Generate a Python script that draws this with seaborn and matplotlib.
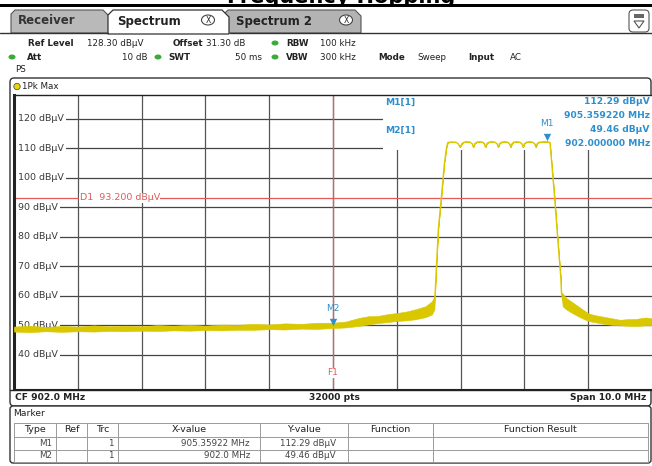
import matplotlib
matplotlib.use("Agg")
import matplotlib.pyplot as plt
import seaborn as sns
from matplotlib.patches import Rectangle, Polygon, FancyBboxPatch, Ellipse, Circle
from matplotlib.transforms import ScaledTranslation

# trace: frequency (MHz), lower / upper edge of the noisy trace (dBuV)
freq_mhz = [897.0, 897.25, 897.5, 897.75, 898.0, 898.25, 898.5, 898.75, 899.0, 899.25, 899.5,
            899.75, 900.0, 900.25, 900.5, 900.75, 901.0, 901.25, 901.5, 901.75,
            902.0, 902.2, 902.4, 902.55, 902.7, 902.85, 903.0, 903.15, 903.3, 903.45, 903.55, 903.59,
            903.60, 903.65, 903.70, 903.745, 903.78, 903.80,
            903.86, 903.93, 903.96, 903.99, 904.02, 904.05, 904.10, 904.15, 904.18, 904.20, 904.22,
            904.25, 904.30, 904.35, 904.37, 904.39, 904.41, 904.44, 904.49, 904.54, 904.57, 904.59,
            904.61, 904.64, 904.69, 904.74, 904.765, 904.785, 904.805, 904.83, 904.88, 904.93,
            904.96, 904.98, 905.00, 905.03, 905.08, 905.13, 905.16, 905.18, 905.20, 905.23,
            905.30, 905.359,
            905.40, 905.47, 905.51, 905.53, 905.57, 905.58,
            905.60, 905.65, 905.75, 905.85, 906.0, 906.1, 906.25, 906.4, 906.5, 906.6, 906.75,
            906.9, 907.0]
level_lo = [47.8, 47.6, 47.9, 47.7, 47.9, 47.8, 48.0, 47.9, 48.1, 48.0, 48.2,
            48.1, 48.3, 48.2, 48.4, 48.4, 48.6, 48.5, 48.8, 48.7,
            49.0, 49.2, 49.7, 50.2, 50.7, 51.0, 51.4, 51.6, 52.0, 52.7, 53.6, 55.4,
            61.0, 82.6, 94.0, 105.0, 110.5, 112.0,
            112.2, 112.1, 111.6, 110.4, 111.6, 112.1, 112.3, 112.1, 111.6, 110.4, 111.6,
            112.1, 112.3, 112.1, 111.6, 110.4, 111.6, 112.1, 112.3, 112.1, 111.6, 110.4,
            111.6, 112.1, 112.3, 112.1, 111.6, 110.4, 111.6, 112.1, 112.3, 112.1,
            111.6, 110.4, 111.6, 112.1, 112.3, 112.1, 111.6, 110.4, 111.6, 112.1,
            112.25, 112.29,
            112.0, 94.0, 82.6, 77.0, 66.0, 61.0,
            56.4, 55.4, 54.1, 52.9, 51.4, 51.0, 50.4, 50.0, 49.9, 49.8, 49.7,
            49.9, 49.9]
level_hi = [49.5, 49.8, 49.4, 49.7, 49.5, 49.9, 49.6, 49.8, 49.6, 50.0, 49.8,
            50.1, 49.8, 50.2, 50.1, 50.4, 50.2, 50.6, 50.4, 50.8,
            50.8, 51.2, 52.4, 53.0, 53.1, 53.7, 54.1, 54.6, 55.4, 56.4, 58.1, 59.8,
            61.0, 82.6, 94.0, 105.0, 110.5, 112.0,
            112.2, 112.1, 111.6, 110.4, 111.6, 112.1, 112.3, 112.1, 111.6, 110.4, 111.6,
            112.1, 112.3, 112.1, 111.6, 110.4, 111.6, 112.1, 112.3, 112.1, 111.6, 110.4,
            111.6, 112.1, 112.3, 112.1, 111.6, 110.4, 111.6, 112.1, 112.3, 112.1,
            111.6, 110.4, 111.6, 112.1, 112.3, 112.1, 111.6, 110.4, 111.6, 112.1,
            112.25, 112.29,
            112.0, 94.0, 82.6, 77.0, 66.0, 61.0,
            60.8, 59.3, 57.8, 56.3, 54.0, 53.4, 52.8, 52.2, 51.8, 52.0, 52.1,
            52.6, 52.3]

grid_db = [40, 50, 60, 70, 80, 90, 100, 110, 120]
grid_labels = ["40 dBμV", "50 dBμV", "60 dBμV", "70 dBμV", "80 dBμV", "90 dBμV",
               "100 dBμV", "110 dBμV", "120 dBμV"]
grid_mhz = [898, 899, 900, 901, 902, 903, 904, 905, 906]

marker_names = ["M1", "M2"]
marker_freq = [905.35922, 902.0]
marker_level = [112.29, 49.46]
marker_x_text = ["905.35922 MHz", "902.0 MHz"]
marker_y_text = ["112.29 dBμV", "49.46 dBμV"]
marker_info_freq = ["905.359220 MHz", "902.000000 MHz"]

d1_level = 93.2
f1_freq = 902.0
ref_level = 128.3

YELLOW = "#d9c800"
BLUE = "#2f8fcc"
RED = "#e05a5a"
W, H = 652, 466

sns.set_style("white")
plt.rcParams["font.family"] = ["DejaVu Sans"]

fig = plt.figure(figsize=(W / 100, H / 100), dpi=100)


def fx(x):
    return x / W


def fy(y):
    return 1 - y / H


def ftext(x, y, s, **kw):
    kw.setdefault("fontsize", 6.3)
    kw.setdefault("va", "center")
    kw.setdefault("color", "#222222")
    fig.text(fx(x), fy(y), s, **kw)


# background layer in pixel coordinates
bg = fig.add_axes([0, 0, 1, 1], zorder=0)
bg.set_xlim(0, W)
bg.set_ylim(H, 0)
bg.axis("off")

# title of the page, cut off by the top edge like in the screenshot
ftext(455, 3.4, "Frequency Hopping", fontsize=15, fontweight="bold", ha="right",
      va="baseline", color="black")
bg.add_patch(Rectangle((0, 3.8), W, 2.8, color="black", lw=0))

# tabs
bg.add_patch(Polygon([(11, 33), (11, 14), (15, 10), (103, 10), (111, 18), (111, 33)],
                     closed=True, fc="#b9b9b9", ec="#555555", lw=0.8))
bg.add_patch(Polygon([(224, 33), (224, 14), (228, 10), (355, 10), (361, 16), (361, 33)],
                     closed=True, fc="#b3b3b3", ec="#555555", lw=0.8))
bg.plot([0, 108], [33, 33], color="#333333", lw=1)
bg.plot([230, W], [33, 33], color="#333333", lw=1)
bg.add_patch(Polygon([(108, 34), (108, 15), (113, 10), (222, 10), (229, 17), (229, 34)],
                     closed=True, fc="white", ec="#333333", lw=0.9))
ftext(18, 21, "Receiver", fontsize=8.5, fontweight="bold", color="#333333")
ftext(117, 21, "Spectrum", fontsize=8.5, fontweight="bold", color="#222222")
ftext(236, 21, "Spectrum 2", fontsize=8.5, fontweight="bold", color="#222222")
for cx in (208, 346):
    bg.add_patch(Ellipse((cx, 20), 13, 10, fc="white", ec="#444444", lw=0.8))
    ftext(cx, 20.5, "X", fontsize=5.5, ha="center", color="#222222")
bg.add_patch(FancyBboxPatch((629, 10), 20, 22, boxstyle="round,pad=0,rounding_size=4",
                            fc="white", ec="#555555", lw=0.8))
bg.add_patch(Rectangle((634, 14), 10, 4, fc="#666666", ec="none"))
bg.add_patch(Polygon([(634, 21), (644, 21), (639, 28)], closed=True, fc="white", ec="#555555", lw=0.8))

# settings block
ftext(28, 43, "Ref Level", fontweight="bold")
ftext(87, 43, "128.30 dBμV")
ftext(173, 43, "Offset", fontweight="bold")
ftext(206, 43, "31.30 dB")
ftext(286, 43, "RBW", fontweight="bold")
ftext(320, 43, "100 kHz")
ftext(27, 57, "Att", fontweight="bold")
ftext(148, 57, "10 dB", ha="right")
ftext(168, 57, "SWT", fontweight="bold")
ftext(262, 57, "50 ms", ha="right")
ftext(286, 57, "VBW", fontweight="bold")
ftext(320, 57, "300 kHz")
ftext(378, 57, "Mode", fontweight="bold")
ftext(417, 57, "Sweep")
ftext(468, 57, "Input", fontweight="bold")
ftext(510, 57, "AC")
ftext(15, 70, "PS")
for gx, gy in [(275, 43), (12, 57), (158, 57), (275, 57)]:
    bg.add_patch(Ellipse((gx, gy), 7, 5, fc="#3aaa3a", ec="none"))

# trace window frame and header
bg.add_patch(FancyBboxPatch((10, 78), 641, 328, boxstyle="round,pad=0,rounding_size=4",
                            fc="white", ec="#333333", lw=1))
bg.add_patch(Circle((17, 86.5), 3.2, fc="#e8d800", ec="#555555", lw=0.6))
ftext(22, 86.5, "1Pk Max")

# main trace axes
ax = fig.add_axes([fx(14), fy(389), fx(652 - 14), (389 - 94.5) / H], zorder=1)
ax.set_xlim(897, 907)
ax.set_ylim(ref_level - 100, ref_level)
ax.set_xticks([])
ax.set_yticks([])
for side in ["left", "bottom", "top", "right"]:
    ax.spines[side].set_color("#222222")
ax.spines["left"].set_linewidth(2.2)
ax.spines["right"].set_visible(False)
ax.spines["top"].set_linewidth(1)

for g in grid_db:
    ax.axhline(g, color="#444444", lw=0.9, zorder=1)
for g in grid_mhz:
    ax.axvline(g, color="#555555", lw=0.9, zorder=1)

# white marker-info box hides the grid there
ax.add_patch(Rectangle((902.78, 109.3), 907 - 902.78, ref_level - 109.3,
                       fc="white", ec="none", zorder=2))

for g, lab in zip(grid_db, grid_labels):
    ax.text(897.06, g, lab, fontsize=6.8, color="#3a3a3a", va="center", ha="left", zorder=2,
            bbox=dict(fc="white", ec="none", boxstyle="square,pad=0.25"))

# display line D1 and frequency line F1
ax.axhline(d1_level, color=RED, lw=0.9, zorder=2)
ax.text(898.03, d1_level, "D1  93.200 dBμV", fontsize=6.8, color=RED, va="center", ha="left",
        zorder=2, bbox=dict(fc="white", ec="none", pad=0.3))
ax.axvline(f1_freq, color=RED, lw=0.9, zorder=2)
ax.text(f1_freq, 33.8, "F1", fontsize=6.5, color=RED, va="center", ha="center", zorder=2,
        bbox=dict(fc="white", ec="none", pad=0.3))

# trace: noisy band + line
ax.fill_between(freq_mhz, level_lo, level_hi, color=YELLOW, lw=0.4, zorder=3)
level_mid = [(a + b) / 2 for a, b in zip(level_lo, level_hi)]
sns.lineplot(x=freq_mhz, y=level_mid, ax=ax, color=YELLOW, lw=0.9, sort=False,
             estimator=None, zorder=3)

# markers
lift = ax.transData + ScaledTranslation(0, 3.5 / 72, fig.dpi_scale_trans)
ax.scatter(marker_freq, marker_level, marker="v", s=28, color=BLUE, zorder=5, transform=lift,
           linewidths=0)
for name, mf, ml in zip(marker_names, marker_freq, marker_level):
    ax.annotate(name, (mf, ml), xytext=(0, 10), textcoords="offset points", ha="center",
                va="bottom", fontsize=6.5, color=BLUE, zorder=5)

# marker info readout
for i, name in enumerate(marker_names):
    y0 = 102 + 28 * i
    ftext(385, y0, name + "[1]", color=BLUE, fontweight="bold", fontsize=6.6)
    ftext(650, y0, marker_y_text[i], color=BLUE, fontweight="bold", ha="right", fontsize=6.6)
    ftext(650, y0 + 14, marker_info_freq[i], color=BLUE, fontweight="bold", ha="right",
          fontsize=6.6)

# bottom status bar
bg.plot([10, 651], [389.5, 389.5], color="#222222", lw=1)
ftext(15, 397.5, "CF 902.0 MHz", fontweight="bold", fontsize=6.6)
ftext(334, 397.5, "32000 pts", fontweight="bold", ha="center", fontsize=6.6)
ftext(646, 397.5, "Span 10.0 MHz", fontweight="bold", ha="right", fontsize=6.6)

# marker table
bg.add_patch(FancyBboxPatch((10, 406), 641, 57, boxstyle="round,pad=0,rounding_size=3",
                            fc="white", ec="#333333", lw=1))
ftext(13, 414, "Marker", fontsize=6.6)
col_edges = [14, 56, 87, 118, 260, 348, 433, 648]
row_edges = [423, 437, 450, 462]
for ye in row_edges:
    bg.plot([col_edges[0], col_edges[-1]], [ye, ye], color="#9a9a9a", lw=0.7)
for xe in col_edges:
    bg.plot([xe, xe], [row_edges[0], row_edges[-1]], color="#9a9a9a", lw=0.7)
headers = ["Type", "Ref", "Trc", "X-value", "Y-value", "Function", "Function Result"]
for i, h in enumerate(headers):
    ftext((col_edges[i] + col_edges[i + 1]) / 2, 430, h, ha="center", fontsize=6.8)
for r, name in enumerate(marker_names):
    yc = 443.5 + 12.5 * r
    ftext(col_edges[1] - 4, yc, name, ha="right", color="#444444")
    ftext(col_edges[3] - 4, yc, "1", ha="right", color="#444444")
    ftext(col_edges[4] - 10, yc, marker_x_text[r], ha="right", color="#444444")
    ftext(col_edges[5] - 12, yc, marker_y_text[r], ha="right", color="#444444")

fig.savefig("out.png", dpi=100)
